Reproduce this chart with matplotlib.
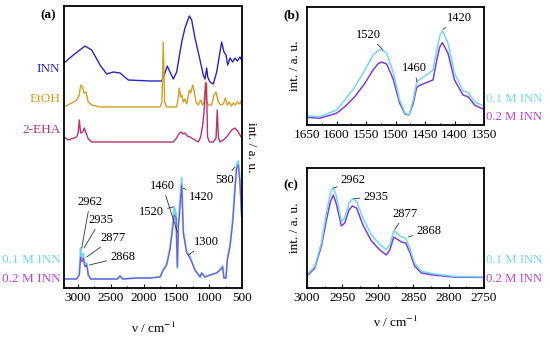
import matplotlib
matplotlib.use("Agg")
import matplotlib.pyplot as plt
from matplotlib.ticker import MultipleLocator

plt.rcParams['font.family'] = ['Liberation Serif', 'DejaVu Serif']
plt.rcParams['mathtext.fontset'] = 'stix'
plt.rcParams['font.size'] = 9

# ---- panel (a): reference spectra (stacked, arbitrary units) ----
inn_wn = [3213, 3071, 2893, 2791, 2664, 2562, 2462, 2360, 2233, 1902, 1724, 1674, 1639,
          1598, 1547, 1496, 1419, 1369, 1303, 1267, 1217, 1140, 1090, 1064, 1038, 1023,
          988, 937, 886, 810, 775, 744, 718, 683, 642, 607, 572, 531, 505]
inn_int = [225, 233, 242, 238, 223, 214, 216, 215, 208, 207, 207, 215, 222,
           216, 209, 216, 246, 260, 272, 268, 250, 228, 213, 209, 220, 211,
           206, 204, 216, 246, 236, 233, 223, 230, 226, 230, 227, 231, 228]

etoh_wn = [3213, 3096, 3020, 2980, 2959, 2928, 2908, 2878, 2843, 2791, 2664, 1750, 1720,
           1700, 1679, 1648, 1496, 1471, 1456, 1435, 1415, 1395, 1369, 1343, 1303, 1282,
           1252, 1232, 1202, 1166, 1130, 1099, 1079, 1059, 1038, 1013, 962, 927, 896,
           861, 825, 785, 755, 724, 694, 663, 633, 603, 572, 531, 505]
etoh_int = [181, 185, 188, 193, 203, 201, 195, 196, 186, 183, 181, 181, 186,
            246, 186, 181, 181, 191, 200, 191, 193, 186, 189, 184, 198, 195,
            203, 198, 186, 183, 188, 183, 186, 206, 186, 183, 183, 193, 196,
            186, 183, 184, 190, 183, 186, 182, 185, 183, 186, 184, 188]

eha_wn = [3213, 3147, 3020, 2995, 2980, 2959, 2928, 2903, 2878, 2843, 2791, 1547, 1496,
          1456, 1419, 1395, 1369, 1334, 1293, 1217, 1166, 1130, 1099, 1079, 1059, 1042,
          1025, 995, 937, 896, 877, 861, 836, 785, 734, 658, 607, 557, 505]
eha_int = [151, 148, 151, 156, 168, 155, 156, 160, 155, 149, 146, 146, 150,
           155, 156, 154, 155, 152, 151, 148, 146, 151, 163, 176, 196, 205,
           151, 146, 146, 150, 178, 151, 146, 148, 151, 158, 160, 156, 150]

# ---- panel (a): INN solutions ----
sol_wn = [3213, 3020, 2980, 2959, 2939, 2919, 2893, 2867, 2843, 2806, 2400, 2360, 2320,
          2100, 1902, 1750, 1700, 1648, 1598, 1558, 1532, 1506, 1485, 1471, 1456, 1419,
          1395, 1343, 1303, 1267, 1217, 1140, 1115, 1064, 988, 886, 836, 795, 775, 744,
          724, 683, 642, 607, 581, 557, 531, 505]
sol_01 = [9, 9, 14, 40, 30, 34, 22, 25, 13, 9, 9, 12, 9,
          10, 10, 11, 18, 24, 40, 62, 81, 74, 20, 64, 76, 110,
          57, 36, 33, 27, 18, 11, 15, 11, 13, 15, 18, 22, 10, 10,
          29, 43, 68, 102, 124, 127, 108, 72]
sol_02 = [9, 9, 13, 31, 26, 30, 21, 23, 13, 9, 9, 12, 9,
          10, 10, 11, 18, 23, 38, 58, 73, 71, 21, 61, 71, 103,
          55, 35, 31, 26, 18, 11, 15, 11, 13, 15, 18, 21, 10, 10,
          28, 41, 65, 98, 120, 123, 105, 71]

# ---- panel (b): 1650-1350 cm-1 ----
b_wn = [1650, 1628.5, 1600, 1586, 1569, 1552, 1538, 1530, 1524, 1515, 1504, 1493, 1484, 1477,
        1470, 1464, 1458, 1453.5, 1445, 1436.5, 1430, 1425, 1420.5, 1411, 1400, 1385.6, 1377,
        1366, 1354.5, 1350]
b_01 = [9, 8.3, 15, 25, 38, 55, 70, 74, 75.7, 71.7, 53, 25, 12, 10,
        25, 43, 46, 47.7, 51, 55, 75, 89, 94.3, 81.7, 51.7, 34.3, 32.3,
        23.3, 20, 19]
b_02 = [7.7, 6.7, 11.7, 18.3, 28.3, 41.7, 55, 61, 63, 61, 46, 22, 11, 10,
        21.7, 37.7, 40, 41, 43, 45, 65, 78, 82.3, 71.7, 45, 30, 28.3,
        20, 16.7, 16]

# ---- panel (c): 3000-2750 cm-1 ----
c_wn = [3000, 2989, 2979.7, 2972.6, 2967, 2963, 2958.5, 2951.4, 2946.7, 2940.7, 2936, 2930,
        2921, 2909, 2897, 2888, 2883, 2877.5, 2873, 2866.7, 2860.6, 2855, 2848, 2838.4,
        2822, 2794, 2750]
c_01 = [13.3, 21.7, 45, 75, 95, 101, 91.7, 66.7, 70, 85, 89.3, 86.7,
        70, 53.3, 43.3, 38.3, 43.3, 57.3, 55, 51, 50, 40, 25, 16.7,
        14.3, 11.7, 11]
c_02 = [12, 20, 42, 68, 86, 93, 84, 62, 65, 78, 82, 80,
        63, 47, 38, 33, 38, 51, 49, 46, 45, 36, 22, 15,
        13, 11, 10.5]

# peak labels: (text, peak x, peak y, text x, text y)
a_labels = [("2962", 2943, 40, 2817, 86), ("2935", 2908, 40, 2654, 68),
            ("2877", 2867, 31, 2462, 50), ("2868", 2827, 23, 2318, 31),
            ("1520", 1547, 81, 1876, 76), ("1460", 1486, 56, 1709, 102),
            ("1420", 1400, 100, 1115, 91), ("1300", 1319, 33, 1038, 46),
            ("580", 607, 121, 770, 108)]
b_labels = [("1520", 1522, 75.7, 1546.6, 90), ("1460", 1463.6, 43.3, 1468.6, 56.7),
            ("1420", 1419.5, 95.7, 1391, 106.7)]
c_labels = [("2962", 2962, 100, 2935, 107.6), ("2935", 2934, 89.3, 2903, 91),
            ("2877", 2876, 58.3, 2862, 74.3), ("2868", 2857, 51, 2828, 57.3)]

col_inn = '#2a22c8'
col_etoh = '#d1a020'
col_eha = '#b8307a'
col_01 = '#6fd8ee'
col_02 = '#7a3ee0'
txt_02 = '#c040d8'
fs_lab = 9.5


def style(ax, major, minor):
    for s in ax.spines.values():
        s.set_linewidth(1.3)
    ax.set_yticks([])
    ax.xaxis.set_major_locator(MultipleLocator(major))
    ax.xaxis.set_minor_locator(MultipleLocator(minor))
    ax.tick_params(axis='x', which='both', direction='in', top=False, width=0.8, pad=3)
    ax.tick_params(axis='x', which='major', length=3, labelsize=9.5)
    ax.tick_params(axis='x', which='minor', length=1.8)


def put_labels(ax, labels):
    for t, px, py, tx, ty in labels:
        ax.annotate(t, xy=(px, py), xytext=(tx, ty), ha='center', va='center', fontsize=9,
                    arrowprops=dict(arrowstyle='-', lw=0.6, color='#333333', shrinkA=0.5, shrinkB=0))


fig = plt.figure(figsize=(5.5, 3.4), dpi=100)

# (a)
ax = fig.add_axes([64 / 550, 52 / 340, 178 / 550, 282 / 340])
ax.plot(inn_wn, inn_int, color=col_inn, lw=1.0)
ax.plot(etoh_wn, etoh_int, color=col_etoh, lw=1.0)
ax.plot(eha_wn, eha_int, color=col_eha, lw=1.0)
ax.plot(sol_wn, sol_01, color=col_01, lw=1.4)
ax.plot(sol_wn, sol_02, color=col_02, lw=0.9, alpha=0.85)
ax.set_xlim(3213, 500)
ax.set_ylim(0, 282)
style(ax, 500, 250)
put_labels(ax, a_labels)
ax.set_xlabel('ν / cm$^{-1}$', fontsize=fs_lab, labelpad=12)
ax.yaxis.set_label_position('right')
ax.set_ylabel('int. / a. u.', fontsize=fs_lab, rotation=270, labelpad=11)
side = [('INN', 219, col_inn), ('EtOH', 189, col_etoh), ('2-EHA', 158, col_eha),
        ('0.1 M INN', 28, col_01), ('0.2 M INN', 9, txt_02)]
for t, yv, c in side:
    ax.text(-0.02, yv, t, transform=ax.get_yaxis_transform(), ha='right', va='center',
            color=c, fontsize=fs_lab)
fig.text(48 / 550, 1 - 15 / 340, '(a)', ha='center', va='center', fontsize=fs_lab, fontweight='bold')

# (b)
bx = fig.add_axes([307 / 550, 215 / 340, 177 / 550, 118 / 340])
bx.plot(b_wn, b_02, color=col_02, lw=1.1)
bx.plot(b_wn, b_01, color=col_01, lw=1.1)
bx.set_xlim(1650, 1350)
bx.set_ylim(0, 118)
style(bx, 50, 25)
put_labels(bx, b_labels)
bx.set_ylabel('int. / a. u.', fontsize=fs_lab, labelpad=4)
bx.text(1.01, 26, '0.1 M INN', transform=bx.get_yaxis_transform(), ha='left', va='center',
        color=col_01, fontsize=9.2)
bx.text(1.01, 8, '0.2 M INN', transform=bx.get_yaxis_transform(), ha='left', va='center',
        color=txt_02, fontsize=9.2)
fig.text(291 / 550, 1 - 15 / 340, '(b)', ha='center', va='center', fontsize=fs_lab, fontweight='bold')

# (c)
cx = fig.add_axes([307 / 550, 52 / 340, 177 / 550, 120 / 340])
cx.plot(c_wn, c_02, color=col_02, lw=1.1)
cx.plot(c_wn, c_01, color=col_01, lw=1.1)
cx.set_xlim(3000, 2750)
cx.set_ylim(0, 120)
style(cx, 50, 25)
put_labels(cx, c_labels)
cx.set_ylabel('int. / a. u.', fontsize=fs_lab, labelpad=4)
cx.set_xlabel('ν / cm$^{-1}$', fontsize=fs_lab, labelpad=8)
cx.text(1.01, 28, '0.1 M INN', transform=cx.get_yaxis_transform(), ha='left', va='center',
        color=col_01, fontsize=9.2)
cx.text(1.01, 9, '0.2 M INN', transform=cx.get_yaxis_transform(), ha='left', va='center',
        color=txt_02, fontsize=9.2)
fig.text(291 / 550, 1 - 185 / 340, '(c)', ha='center', va='center', fontsize=fs_lab, fontweight='bold')

fig.savefig('out.png', dpi=100)
